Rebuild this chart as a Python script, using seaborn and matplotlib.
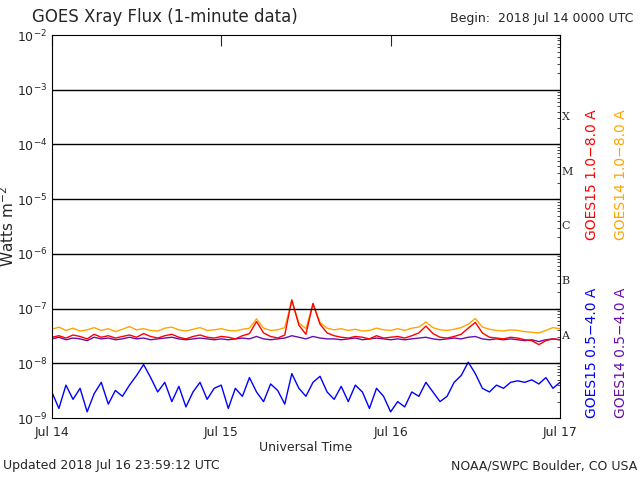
import numpy as np
import pandas as pd
import matplotlib
matplotlib.use("Agg")
import matplotlib.pyplot as plt
import seaborn as sns

# hours since 2018 Jul 14 0000 UTC
hours = list(range(0, 73))

g15_long = [3.0, 3.2, 2.9, 3.3, 3.1, 2.8, 3.4, 3.0, 3.2, 2.9, 3.1, 3.3, 3.0, 3.5, 3.1, 2.9, 3.2, 3.4, 3.0, 2.8,
            3.1, 3.3, 3.0, 2.9, 3.1, 3.0, 2.8, 3.2, 3.5, 5.8, 3.6, 3.1, 2.9, 3.3, 14.5, 5.0, 3.4, 12.5, 5.2, 3.6,
            3.2, 3.0, 2.9, 3.1, 3.0, 2.8, 3.2, 2.9, 3.0, 3.1, 2.9, 3.2, 3.6, 4.8, 3.5, 3.0, 2.9, 3.1, 3.4, 4.4,
            5.6, 3.6, 3.0, 2.9, 2.8, 3.0, 2.9, 2.7, 2.6, 2.2, 2.6, 2.8, 2.7]
g14_long = [4.2, 4.6, 4.0, 4.4, 3.9, 4.1, 4.5, 4.0, 4.3, 3.8, 4.2, 4.7, 4.1, 4.3, 4.0, 3.9, 4.4, 4.6, 4.1, 3.9,
            4.2, 4.5, 4.0, 4.1, 4.3, 4.0, 3.9, 4.2, 4.4, 6.5, 4.4, 4.0, 4.1, 4.5, 14.0, 5.5, 4.3, 12.0, 5.6, 4.4,
            4.1, 4.3, 4.0, 4.2, 3.9, 4.0, 4.4, 4.1, 4.0, 4.3, 4.0, 4.4, 4.6, 5.7, 4.5, 4.1, 4.0, 4.2, 4.5, 5.2,
            6.6, 4.6, 4.2, 4.0, 3.9, 4.1, 4.0, 3.8, 3.7, 3.6, 4.0, 4.5, 4.3]
g14_short = [2.8, 3.0, 2.7, 2.9, 2.8, 2.6, 3.0, 2.8, 2.9, 2.7, 2.8, 3.0, 2.8, 2.9, 2.7, 2.8, 2.9, 3.0, 2.8, 2.7,
             2.8, 2.9, 2.8, 2.7, 2.8, 2.7, 2.8, 2.9, 2.8, 3.1, 2.8, 2.7, 2.8, 2.9, 3.2, 3.0, 2.8, 3.1, 2.9, 2.8,
             2.8, 2.7, 2.8, 2.9, 2.7, 2.8, 2.9, 2.8, 2.7, 2.8, 2.7, 2.8, 2.9, 3.0, 2.8, 2.7, 2.8, 2.9, 2.8, 3.0,
             3.1, 2.8, 2.7, 2.8, 2.7, 2.8, 2.7, 2.6, 2.7, 2.5, 2.7, 2.8, 2.7]
g15_short = [3.0, 1.5, 4.0, 2.2, 3.5, 1.3, 2.8, 4.5, 1.8, 3.2, 2.5, 4.0, 6.0, 9.5, 5.5, 3.0, 4.5, 2.0, 3.8, 1.6,
             3.0, 4.5, 2.2, 3.5, 4.0, 1.5, 3.5, 2.5, 5.5, 3.0, 2.0, 4.2, 3.2, 1.8, 6.5, 3.5, 2.5, 4.5, 5.8, 3.0,
             2.2, 3.8, 2.0, 4.0, 3.0, 1.5, 3.5, 2.5, 1.3, 2.0, 1.6, 3.0, 2.5, 4.5, 3.0, 2.0, 2.5, 4.5, 6.0, 10.5,
             6.5, 3.5, 3.0, 4.0, 3.5, 4.5, 4.8, 4.5, 5.0, 4.2, 5.5, 3.5, 4.5]

df = pd.DataFrame({"hours": hours,
                   "GOES15 long": np.array(g15_long) * 1e-8,
                   "GOES14 long": np.array(g14_long) * 1e-8,
                   "GOES14 short": np.array(g14_short) * 1e-8,
                   "GOES15 short": np.array(g15_short) * 1e-9})

sns.set_style("white")
plt.rcParams['font.family'] = ['DejaVu Sans']
fig = plt.figure(figsize=(6.4, 4.8), dpi=100)
ax = fig.add_axes([0.081, 0.129, 0.794, 0.798])

sns.lineplot(data=df, x="hours", y="GOES14 long", color="orange", lw=1, ax=ax)
sns.lineplot(data=df, x="hours", y="GOES14 short", color="#6a0dad", lw=1, ax=ax)
sns.lineplot(data=df, x="hours", y="GOES15 long", color="red", lw=1, ax=ax)
sns.lineplot(data=df, x="hours", y="GOES15 short", color="blue", lw=1, ax=ax)

ax.set_yscale("log")
ax.set_ylim(1e-9, 1e-2)
ax.set_xlim(0, 72)
for e in range(-8, -2):
    ax.axhline(10.0 ** e, color="black", lw=1)
for s in ax.spines.values():
    s.set_color("black")
ax.set_xticks([0, 24, 48, 72])
ax.set_xticklabels(["Jul 14", "Jul 15", "Jul 16", "Jul 17"], fontsize=9)
ax.tick_params(axis="both", direction="in", which="both", right=True, top=True, labelsize=9)
ax.tick_params(axis="x", which="major", length=8, pad=6)
ax.set_xlabel("Universal Time", fontsize=9, labelpad=1)
ax.set_ylabel("Watts m$^{-2}$", fontsize=11)
ax.yaxis.set_label_coords(-0.068, 0.5)

for lab, y in zip(["A", "B", "C", "M", "X"], [3.2e-8, 3.2e-7, 3.2e-6, 3.2e-5, 3.2e-4]):
    ax.text(1.003, y, lab, transform=ax.get_yaxis_transform(), fontsize=8,
            family="serif", va="center")

fig.text(0.05, 0.955, "GOES Xray Flux (1-minute data)", fontsize=12)
fig.text(0.99, 0.955, "Begin:  2018 Jul 14 0000 UTC", fontsize=9, ha="right")
fig.text(0.004, 0.022, "Updated 2018 Jul 16 23:59:12 UTC", fontsize=9)
fig.text(0.995, 0.022, "NOAA/SWPC Boulder, CO USA", fontsize=9, ha="right")

fig.text(0.925, 0.50, "GOES15 1.0\u22128.0 A", color="red", rotation=90, fontsize=10, va="bottom", ha="center")
fig.text(0.97, 0.50, "GOES14 1.0\u22128.0 A", color="orange", rotation=90, fontsize=10, va="bottom", ha="center")
fig.text(0.925, 0.13, "GOES15 0.5\u22124.0 A", color="blue", rotation=90, fontsize=10, va="bottom", ha="center")
fig.text(0.97, 0.13, "GOES14 0.5\u22124.0 A", color="#6a0dad", rotation=90, fontsize=10, va="bottom", ha="center")

fig.savefig("out.png", dpi=100)
